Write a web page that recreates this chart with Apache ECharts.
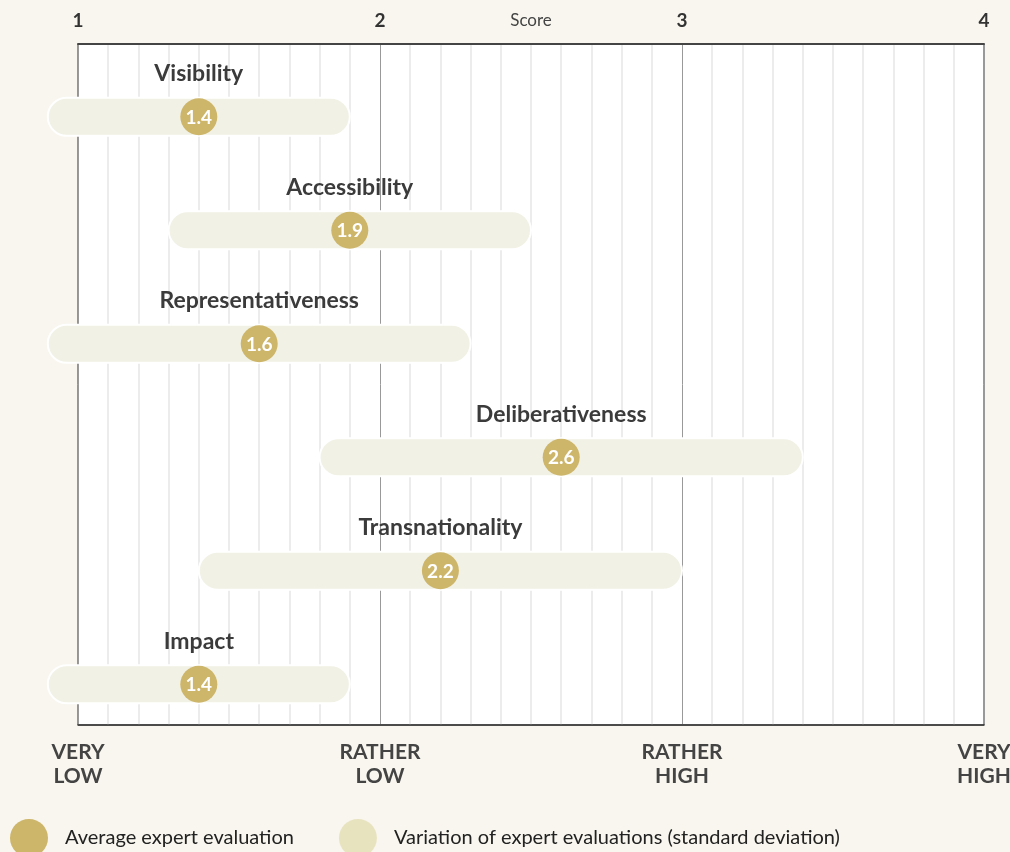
<!DOCTYPE html>
<html>
<head>
<meta charset="utf-8">
<script src="https://cdn.jsdelivr.net/npm/echarts@6/dist/echarts.min.js"></script>
<style>
  html, body { margin: 0; padding: 0; background: #f8f6ee; }
  #chart { width: 1010px; height: 852px; }
</style>
</head>
<body>
<div id="chart"></div>
<script>
const categories = ['Visibility', 'Accessibility', 'Representativeness', 'Deliberativeness', 'Transnationality', 'Impact'];
const means = [1.4, 1.9, 1.6, 2.6, 2.2, 1.4];
const deviations = [0.5, 0.6, 0.7, 0.8, 0.8, 0.5];
const scaleLabels = ['VERY\nLOW', 'RATHER\nLOW', 'RATHER\nHIGH', 'VERY\nHIGH'];

const FONT = 'Lato';
const DOT = '#cdb569';
const BAR = '#f1f1e5';
// bars sit a bit below the middle of each band (the name goes above)
const SHIFT = 16;

const chart = echarts.init(document.getElementById('chart'));

const rows = categories.map((c, i) => [means[i], i, deviations[i]]);

function renderBar(params, api) {
    const m = api.value(0), i = api.value(1), sd = api.value(2);
    const a = api.coord([m - sd, i]);
    const b = api.coord([m + sd, i]);
    const cy = a[1] + SHIFT;
    return {
        type: 'rect',
        shape: { x: a[0], y: cy - 19, width: b[0] - a[0], height: 38, r: 19 },
        style: { fill: BAR, stroke: '#fff', lineWidth: 2 }
    };
}

function renderDot(params, api) {
    const m = api.value(0), i = api.value(1);
    const p = api.coord([m, i]);
    const cy = p[1] + SHIFT;
    return {
        type: 'group',
        children: [
            { type: 'circle', shape: { cx: p[0], cy: cy, r: 18.5 }, style: { fill: DOT } },
            {
                type: 'text', x: p[0], y: cy + 1,
                style: {
                    text: m.toFixed(1), fill: '#fff', font: 'bold 19px ' + FONT,
                    align: 'center', verticalAlign: 'middle'
                }
            },
            {
                type: 'text', x: p[0], y: cy - 43,
                style: {
                    text: categories[i], fill: '#3b3b3b', font: 'bold 23px ' + FONT,
                    align: 'center', verticalAlign: 'middle'
                }
            }
        ]
    };
}

chart.setOption({
    backgroundColor: '#f8f6ee',
    textStyle: { fontFamily: FONT },
    grid: {
        left: 78, right: 26, top: 44, bottom: 127, outerBoundsMode: 'none',
        show: true, backgroundColor: '#fff', borderColor: '#333', borderWidth: 1
    },
    legend: {
        top: 819, left: 10, padding: 0,
        icon: 'circle', itemWidth: 38, itemHeight: 38, itemGap: 45,
        textStyle: { fontSize: 20, color: '#222', fontFamily: FONT, padding: [0, 0, 0, 12] },
        data: ['Average expert evaluation', 'Variation of expert evaluations (standard deviation)']
    },
    xAxis: [
        {
            type: 'value', position: 'top', min: 1, max: 4, interval: 1,
            name: 'Score', nameLocation: 'middle', nameGap: 15, nameMoveOverlap: false,
            nameTextStyle: { fontSize: 17, color: '#444', fontFamily: FONT },
            axisLine: { show: true, lineStyle: { color: '#444', width: 2 } },
            axisTick: { show: false },
            axisLabel: { fontSize: 19, fontWeight: 'bold', color: '#333', margin: 14, fontFamily: FONT },
            splitLine: { show: true, lineStyle: { color: '#999', width: 1 } },
            minorTick: { show: false, splitNumber: 10 },
            minorSplitLine: { show: true, lineStyle: { color: '#e6e6e6', width: 1.5 } }
        },
        {
            type: 'value', position: 'bottom', min: 1, max: 4, interval: 1,
            axisLine: { show: true, lineStyle: { color: '#333', width: 1.5 } },
            axisTick: { show: false },
            splitLine: { show: false },
            axisLabel: {
                fontSize: 21, fontWeight: 'bold', color: '#444', lineHeight: 24, margin: 15,
                fontFamily: FONT,
                formatter: v => scaleLabels[Math.round(v) - 1]
            }
        }
    ],
    yAxis: {
        type: 'category', data: categories, inverse: true, show: false
    },
    series: [
        {
            name: 'Variation of expert evaluations (standard deviation)',
            type: 'custom', xAxisIndex: 0, renderItem: renderBar,
            itemStyle: { color: '#e8e3bf' },
            encode: { x: 0, y: 1 }, data: rows, z: 2, silent: true
        },
        {
            name: 'Average expert evaluation',
            type: 'custom', xAxisIndex: 0, renderItem: renderDot,
            itemStyle: { color: DOT },
            encode: { x: 0, y: 1 }, data: rows, z: 3, silent: true
        }
    ]
});
</script>
</body>
</html>
